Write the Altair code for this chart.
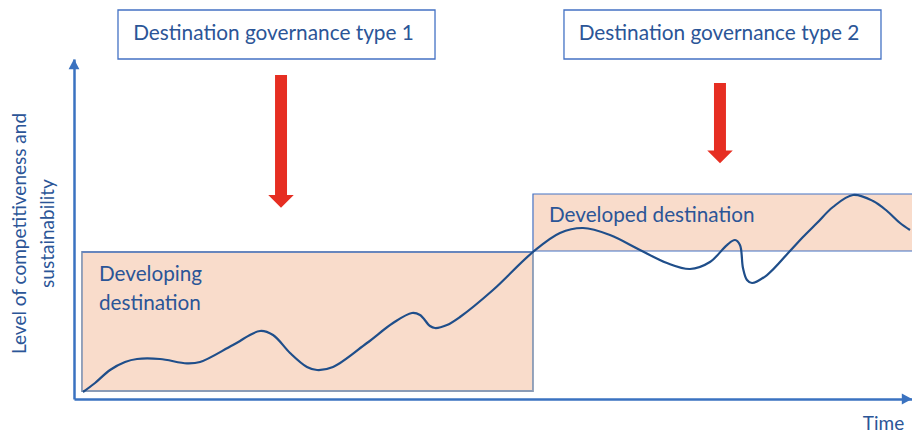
import altair as alt
import pandas as pd

# ---- data (time units 0-100 along the x axis, level units 0-100 along the y axis)
curve_time = [1.07, 2.51, 4.30, 6.09, 7.52, 10.26, 13.48, 15.04, 18.97, 22.20, 23.75, 25.78,
              27.80, 29.00, 30.91, 34.96, 38.07, 40.33, 41.29, 42.48, 43.08, 44.51, 46.06,
              50.00, 54.77, 57.99, 60.74, 63.96, 67.54, 70.76, 73.51, 75.89, 77.92, 78.88,
              79.47, 79.83, 80.31, 80.91, 82.70, 85.44, 86.99, 88.66, 90.57, 92.96, 95.35,
              97.02, 98.57, 99.76]
curve_level = [2.06, 4.71, 8.53, 10.88, 11.76, 11.76, 10.49, 10.88, 15.88, 20.00, 18.82, 13.53,
               9.41, 8.53, 9.41, 16.47, 22.35, 25.29, 24.71, 21.47, 20.88, 21.76, 24.12,
               32.06, 43.24, 48.82, 50.29, 48.24, 43.82, 40.00, 38.24, 40.29, 45.29, 46.76,
               45.29, 38.53, 35.00, 34.12, 36.47, 43.53, 47.65, 51.76, 56.47, 60.00, 58.24,
               55.30, 51.76, 49.70]

stage_names = ["Developing destination", "Developed destination"]
stage_t0 = [0.95, 54.77]
stage_t1 = [54.77, 101.5]
stage_l0 = [2.35, 43.53]
stage_l1 = [43.24, 60.29]

gov_labels = ["Destination governance type 1", "Destination governance type 2"]
gov_t0 = [5.25, 58.47]
gov_t1 = [43.08, 96.30]
gov_l0 = [100.0, 100.0]
gov_l1 = [114.41, 114.41]
gov_text_t = [23.81, 76.97]
gov_text_l = [105.6, 105.6]

arrow_t0 = [23.99, 76.37]
arrow_t1 = [25.42, 77.80]
arrow_top = [95.29, 92.94]
arrow_bottom = [59.7, 72.6]
arrow_head_t = [24.70, 77.09]
arrow_head_l = [58.09, 71.18]

stage_text = ["Developing\ndestination", "Developed destination"]
stage_text_t = [2.98, 56.68]
stage_text_l = [34.71, 52.06]

FONT = "Lato"
TEXT_BLUE = "#2B5597"
LINE_BLUE = "#1F4E8A"
AXIS_BLUE = "#3A72C0"
BORDER_BLUE = "#4472C4"
PEACH = "#F9DCCB"
RED = "#E62E22"

xscale = alt.Scale(domain=[0, 100], nice=False, zero=False)
yscale = alt.Scale(domain=[0, 100], nice=False, zero=False)
xaxis = alt.Axis(title="Time", ticks=False, labels=False, grid=False,
                 domainColor=AXIS_BLUE, domainWidth=2.5,
                 titleFont=FONT, titleFontSize=19, titleFontWeight="normal",
                 titleColor=TEXT_BLUE, titleX=809, titleY=30,
                 titleAlign="center", titleBaseline="alphabetic")
yaxis = alt.Axis(title=["Level of competitiveness and", "sustainability"], ticks=False,
                 labels=False, grid=False, domainColor=AXIS_BLUE, domainWidth=2.5,
                 titleFont=FONT, titleFontSize=19, titleFontWeight="normal",
                 titleColor=TEXT_BLUE, titleX=-64, titleY=174, titleAngle=270,
                 titleAlign="center", titleBaseline="top", titleLineHeight=28)

curve_df = pd.DataFrame({"time": curve_time, "level": curve_level})
stage_df = pd.DataFrame({"name": stage_names, "t0": stage_t0, "t1": stage_t1,
                         "l0": stage_l0, "l1": stage_l1})
gov_df = pd.DataFrame({"label": gov_labels, "t0": gov_t0, "t1": gov_t1, "l0": gov_l0,
                       "l1": gov_l1, "tt": gov_text_t, "tl": gov_text_l})
arrow_df = pd.DataFrame({"t0": arrow_t0, "t1": arrow_t1, "top": arrow_top,
                         "bottom": arrow_bottom, "ht": arrow_head_t, "hl": arrow_head_l})
stext_df = pd.DataFrame({"label": stage_text, "t": stage_text_t, "l": stage_text_l})
xhead_df = pd.DataFrame({"time": [100.0], "level": [0.0]})
yhead_df = pd.DataFrame({"time": [0.0], "level": [100.0]})

base_x = lambda f: alt.X(f, type="quantitative", scale=xscale, axis=xaxis)
base_y = lambda f: alt.Y(f, type="quantitative", scale=yscale, axis=yaxis)

box1 = alt.Chart(stage_df.iloc[[0]]).mark_rect(
    fill=PEACH, stroke="#8A9BB6", strokeWidth=1.8).encode(
    x=base_x("t0"), x2="t1", y=base_y("l0"), y2="l1")
box1_top = alt.Chart(stage_df.iloc[[0]]).mark_rule(
    color=BORDER_BLUE, strokeWidth=1.2).encode(
    x=base_x("t0"), x2="t1", y=base_y("l1"))
box2 = alt.Chart(stage_df.iloc[[1]]).mark_rect(
    fill=PEACH, stroke=BORDER_BLUE, strokeWidth=1.2).encode(
    x=base_x("t0"), x2="t1", y=base_y("l0"), y2="l1")

gov_boxes = alt.Chart(gov_df).mark_rect(
    fill="white", stroke=BORDER_BLUE, strokeWidth=1.3).encode(
    x=base_x("t0"), x2="t1", y=base_y("l0"), y2="l1")
gov_text = alt.Chart(gov_df).mark_text(
    font=FONT, fontSize=20.8, color=TEXT_BLUE, align="center",
    baseline="alphabetic").encode(
    x=base_x("tt"), y=base_y("tl"), text="label:N")

curve = alt.Chart(curve_df).mark_line(
    color=LINE_BLUE, strokeWidth=2.2, interpolate="catmull-rom").encode(
    x=base_x("time"), y=base_y("level"))

stage_labels = alt.Chart(stext_df).mark_text(
    font=FONT, fontSize=20.7, color=TEXT_BLUE, align="left", baseline="alphabetic",
    lineBreak="\n", lineHeight=29).encode(
    x=base_x("t"), y=base_y("l"), text="label:N")

shafts = alt.Chart(arrow_df).mark_rect(fill=RED).encode(
    x=base_x("t0"), x2="t1", y=base_y("bottom"), y2="top")
heads = alt.Chart(arrow_df).mark_point(
    shape="M -1 -0.5 L 1 -0.5 L 0 0.5 Z", size=650, filled=True, fill=RED,
    opacity=1, strokeWidth=0).encode(
    x=base_x("ht"), y=base_y("hl"))

xhead = alt.Chart(xhead_df).mark_point(
    shape="M 0 0 L -1.7 -0.9 L -1.7 0.9 Z", size=144, filled=True, fill=AXIS_BLUE,
    opacity=1, strokeWidth=0).encode(x=base_x("time"), y=base_y("level"))
yhead = alt.Chart(yhead_df).mark_point(
    shape="M 0 0 L -0.9 1.7 L 0.9 1.7 Z", size=144, filled=True, fill=AXIS_BLUE,
    opacity=1, strokeWidth=0).encode(x=base_x("time"), y=base_y("level"))

chart = alt.layer(
    box1, box2, box1_top, gov_boxes, gov_text, curve, stage_labels, shafts, heads,
    xhead, yhead
).properties(
    width=838, height=340,
    autosize=alt.AutoSizeParams(type="none"),
    padding={"left": 66, "top": 51, "right": 0, "bottom": 35},
    background="white",
).configure_view(stroke=None)

chart.save("out.html", embed_options={"renderer": "svg", "actions": False})
